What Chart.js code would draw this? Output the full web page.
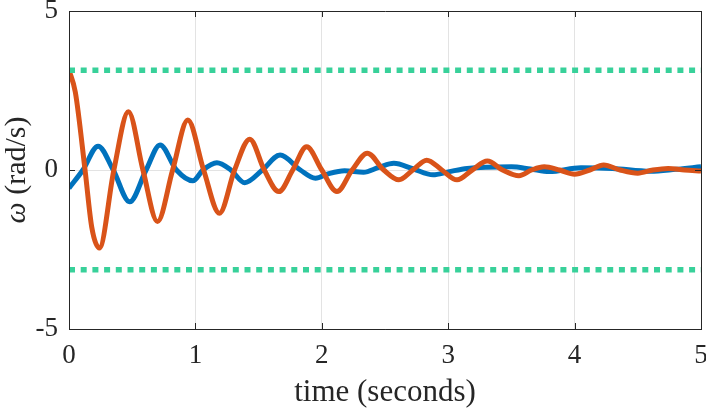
<!DOCTYPE html>
<html lang="en">
  <head>
    <meta charset="UTF-8" />
    <title>Angular velocity</title>
    <script src="https://cdn.jsdelivr.net/npm/chart.js"></script>
    <style>
      body { margin: 0; background: #fff; }
      #wrap { width: 706px; height: 411px; }
    </style>
  </head>
  <body>
    <div id="wrap"><canvas id="omegaChart"></canvas></div>
    <script>
      // values
      const timeBlue = [0, 0.11, 0.23, 0.35, 0.48, 0.61, 0.72, 0.85, 0.98, 1.06, 1.17, 1.28, 1.39, 1.53, 1.67, 1.83, 1.95, 2.05, 2.18, 2.33, 2.45, 2.57, 2.72, 2.88, 3.0, 3.15, 3.5, 3.65, 3.8, 4.05, 4.3, 4.6, 4.8, 5.0];
      const omegaBlue = [-0.57, 0, 0.75, 0, -1.0, 0, 0.79, 0, -0.34, 0, 0.23, 0, -0.4, 0, 0.47, 0, -0.26, -0.12, -0.02, -0.07, 0.08, 0.21, 0.04, -0.15, -0.06, 0.05, 0.1, 0.03, -0.05, 0.07, 0.05, -0.04, 0.02, 0.1];

      const timeOrange = [0, 0.05, 0.127, 0.18, 0.24, 0.355, 0.47, 0.585, 0.7, 0.82, 0.94, 1.065, 1.19, 1.31, 1.43, 1.545, 1.66, 1.77, 1.88, 2.0, 2.12, 2.24, 2.36, 2.49, 2.61, 2.72, 2.83, 2.95, 3.07, 3.19, 3.31, 3.43, 3.56, 3.66, 3.76, 3.88, 4.0, 4.12, 4.23, 4.36, 4.5, 4.62, 4.74, 4.87, 5.0];
      const omegaOrange = [3.14, 2.45, 0, -1.8, -2.45, 0, 1.83, 0, -1.62, 0, 1.57, 0, -1.36, 0, 0.97, 0, -0.68, 0, 0.73, 0, -0.68, 0, 0.53, 0, -0.31, 0, 0.31, 0, -0.31, 0, 0.28, 0, -0.18, 0, 0.1, 0, -0.13, 0, 0.16, 0, -0.1, 0, 0.05, 0, -0.03];

      const boundTime = [0, 5];
      const upperBound = [3.14, 3.14];
      const lowerBound = [-3.14, -3.14];

      const xTicks = [0, 1, 2, 3, 4, 5];
      const yTicks = [-5, 0, 5];

      const axisColor = "#262626";
      const serif = "'Liberation Serif', 'DejaVu Serif', serif";

      function toPoints(xs, ys) {
        return xs.map((x, i) => ({ x: x, y: ys[i] }));
      }

      // MATLAB style box, inward ticks and the y label with an italic omega
      const framePlugin = {
        id: "frame",
        afterDraw(chart) {
          const { ctx, chartArea: a, scales } = chart;
          const t = 6;
          ctx.save();
          ctx.strokeStyle = axisColor;
          ctx.lineWidth = 1;
          ctx.beginPath();
          ctx.moveTo(a.left + 0.5, a.bottom + 0.5);
          ctx.lineTo(a.left + 0.5, a.top + 0.5);
          ctx.lineTo(a.right + 0.5, a.top + 0.5);
          ctx.lineTo(a.right + 0.5, a.bottom + 0.5);
          ctx.closePath();
          xTicks.forEach((v) => {
            const px = Math.round(scales.x.getPixelForValue(v)) + 0.5;
            ctx.moveTo(px, a.bottom);
            ctx.lineTo(px, a.bottom - t);
            ctx.moveTo(px, a.top);
            ctx.lineTo(px, a.top + t);
          });
          yTicks.forEach((v) => {
            const py = Math.round(scales.y.getPixelForValue(v)) + 0.5;
            ctx.moveTo(a.left, py);
            ctx.lineTo(a.left + t, py);
            ctx.moveTo(a.right, py);
            ctx.lineTo(a.right - t, py);
          });
          ctx.stroke();

          // y axis label
          const cy = (a.top + a.bottom) / 2;
          ctx.translate(17, cy);
          ctx.rotate(-Math.PI / 2);
          ctx.fillStyle = axisColor;
          ctx.textBaseline = "middle";
          const italic = "italic 30px " + serif;
          const normal = "30px " + serif;
          ctx.font = italic;
          const w1 = ctx.measureText("ω").width;
          ctx.font = normal;
          const w2 = ctx.measureText(" (rad/s)").width;
          let x0 = -(w1 + w2) / 2;
          ctx.font = italic;
          ctx.fillText("ω", x0, 0);
          ctx.font = normal;
          ctx.fillText(" (rad/s)", x0 + w1, 0);
          ctx.restore();
        },
      };

      const ctx = document.getElementById("omegaChart").getContext("2d");
      new Chart(ctx, {
        type: "line",
        data: {
          datasets: [
            {
              data: toPoints(boundTime, upperBound),
              borderColor: "#38d19a",
              borderWidth: 5.5,
              borderDash: [6, 5.7],
              borderCapStyle: "butt",
              pointRadius: 0,
            },
            {
              data: toPoints(boundTime, lowerBound),
              borderColor: "#38d19a",
              borderWidth: 5.5,
              borderDash: [6, 5.7],
              borderCapStyle: "butt",
              pointRadius: 0,
            },
            {
              data: toPoints(timeOrange, omegaOrange),
              borderColor: "#D95319",
              borderWidth: 5,
              cubicInterpolationMode: "monotone",
              pointRadius: 0,
            },
            {
              data: toPoints(timeBlue, omegaBlue),
              borderColor: "#0072BD",
              borderWidth: 5,
              cubicInterpolationMode: "monotone",
              pointRadius: 0,
            },
          ],
        },
        options: {
          responsive: true,
          maintainAspectRatio: false,
          animation: false,
          events: [],
          layout: { padding: { top: 11, right: 5, left: 0, bottom: 0 } },
          plugins: {
            legend: { display: false },
            tooltip: { enabled: false },
          },
          scales: {
            x: {
              type: "linear",
              min: 0,
              max: 5,
              afterBuildTicks: (scale) => {
                scale.ticks = xTicks.map((v) => ({ value: v }));
              },
              afterFit: (scale) => {
                scale.height = 82;
                scale.paddingLeft = 0;
                scale.paddingRight = 0;
              },
              grid: { color: "#e3e3e3", drawTicks: false },
              border: { color: axisColor },
              ticks: {
                padding: 11,
                color: axisColor,
                maxRotation: 0,
                font: { family: serif, size: 27 },
              },
              title: {
                display: true,
                text: "time (seconds)",
                color: axisColor,
                padding: { top: 0, bottom: 0 },
                font: { family: serif, size: 31 },
              },
            },
            y: {
              min: -5,
              max: 5,
              afterBuildTicks: (scale) => {
                scale.ticks = yTicks.map((v) => ({ value: v }));
              },
              afterFit: (scale) => {
                scale.width = 69;
                scale.paddingTop = 0;
                scale.paddingBottom = 0;
              },
              grid: { color: "#e3e3e3", drawTicks: false },
              border: { color: axisColor },
              ticks: {
                padding: 11,
                color: axisColor,
                font: { family: serif, size: 27 },
              },
            },
          },
        },
        plugins: [framePlugin],
      });
    </script>
  </body>
</html>
